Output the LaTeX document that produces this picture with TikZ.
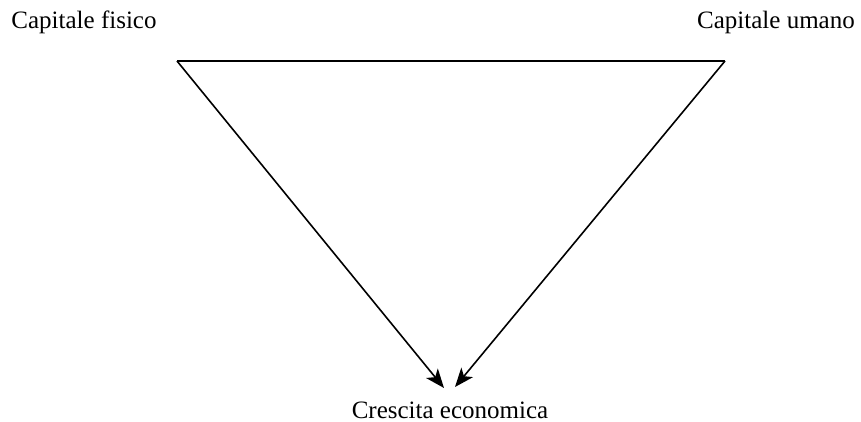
\documentclass[tikz,border=0pt]{standalone}
\usepackage{fontspec}
\setmainfont{Liberation Serif}
\usepackage{tikz}
\usetikzlibrary{arrows.meta}

\begin{document}
\begin{tikzpicture}[x=1pt,y=-1pt,
  every node/.style={font=\fontsize{25}{30}\selectfont,inner sep=0pt},
  edge/.style={line width=1.6pt},
  arr/.style={edge,-{Stealth[length=19pt,width=15pt,inset=5pt]}}]
\useasboundingbox (0,0) rectangle (861,422);
\node (fisico) at (84,22) {Capitale fisico};
\node (umano) at (776,22) {Capitale umano};
\node (crescita) at (450,410) {Crescita economica};
\coordinate (sx) at (177,61);
\coordinate (dx) at (725,61);
\coordinate (tl) at (444,388);
\coordinate (tr) at (455,387);
\draw[edge] (sx) -- (dx);
\draw[arr] (sx) -- (tl);
\draw[arr] (dx) -- (tr);
\end{tikzpicture}
\end{document}
